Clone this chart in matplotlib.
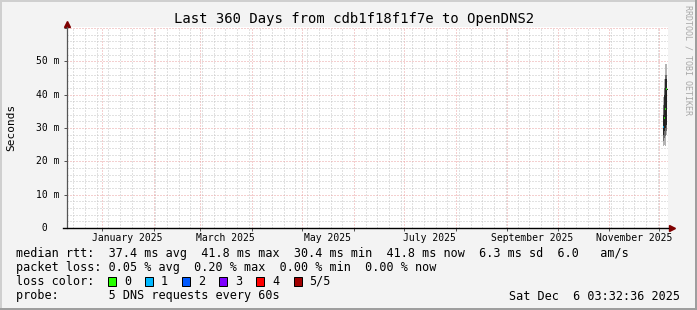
import datetime as dt

import matplotlib
matplotlib.use("Agg")
import matplotlib.pyplot as plt
import matplotlib.dates as mdates
import matplotlib.transforms as mtransforms
from matplotlib.patches import Rectangle
from matplotlib.ticker import MultipleLocator

##############################################################################
# data
##############################################################################

end = dt.datetime(2025, 12, 6, 3, 32, 36)
start = end - dt.timedelta(days=360)

title = "Last 360 Days from cdb1f18f1f7e to OpenDNS2"

y_ticks = [0, 10, 20, 30, 40, 50]
y_tick_labels = [" 0", "10 m", "20 m", "30 m", "40 m", "50 m"]

month_labels = ["January 2025", "March 2025", "May 2025",
                "July 2025", "September 2025", "November 2025"]
month_label_dates = [dt.datetime(2025, 1, 16), dt.datetime(2025, 3, 16),
                     dt.datetime(2025, 5, 16), dt.datetime(2025, 7, 16),
                     dt.datetime(2025, 9, 16), dt.datetime(2025, 11, 16)]

# smoke / median samples (ms), only the last few days carry data
sample_times = [dt.datetime(2025, 12, 3, 3, 0), dt.datetime(2025, 12, 3, 17, 0),
                dt.datetime(2025, 12, 4, 7, 0), dt.datetime(2025, 12, 4, 21, 0)]
smoke_lo = [24.6, 25.0, 24.6, 27.8]
smoke_hi = [39.3, 44.8, 49.3, 49.3]
smoke_mid_lo = [26.0, 27.0, 27.5, 29.0]
smoke_mid_hi = [37.0, 42.0, 46.0, 46.0]
core_lo = [28.0, 29.0, 30.0, 31.0]
core_hi = [34.0, 40.0, 44.8, 44.8]
median = [30.4, 33.0, 35.6, 41.8]
median_loss = [1, 0, 0, 0]

loss_labels = ["0", "1", "2", "3", "4", "5/5"]
loss_colors = ["#26ff00", "#00b8ff", "#0059ff", "#7e00ff", "#ff0000", "#a10000"]

legend_rows = [
    "median rtt:  37.4 ms avg  41.8 ms max  30.4 ms min  41.8 ms now  6.3 ms sd  6.0   am/s",
    "packet loss: 0.05 % avg  0.20 % max  0.00 % min  0.00 % now",
    "loss color:",
    "probe:       5 DNS requests every 60s",
]
stamp = "Sat Dec  6 03:32:36 2025"

##############################################################################
# figure
##############################################################################

W, H = 697, 310
MONO = "DejaVu Sans Mono"

fig = plt.figure(figsize=(W / 100, H / 100), dpi=100, facecolor="#f3f3f3")
ax = fig.add_axes([67 / W, 82 / H, 601 / W, 201 / H])
ax.set_facecolor("white")

ax.set_xlim(start, end)
ax.set_ylim(0, 60.3)

# grid (dotted, rrdtool style)
ax.xaxis.set_major_locator(mdates.MonthLocator())
ax.xaxis.set_minor_locator(mdates.WeekdayLocator(byweekday=mdates.SU))
ax.yaxis.set_major_locator(MultipleLocator(10))
ax.yaxis.set_minor_locator(MultipleLocator(2))
ax.grid(which="minor", color="#c4c4c4", linestyle=(0, (1, 2)), linewidth=0.72)
ax.grid(which="major", color="#eba0a0", linestyle=(0, (1, 2)), linewidth=0.72)
ax.set_axisbelow(True)

ax.set_xticklabels([])
ax.set_yticklabels([])
ax.tick_params(which="major", length=2.5, width=0.72, color="#555555",
               direction="out")
ax.tick_params(which="minor", length=0)

for s in ["top", "right", "bottom"]:
    ax.spines[s].set_visible(False)
ax.spines["left"].set_color("#555555")
ax.spines["left"].set_linewidth(0.9)

# x axis line, starts a little left of the y axis
ax.axhline(0, xmin=-0.007, xmax=1.0, color="black", linewidth=1.0,
           clip_on=False, zorder=3)

# arrows
up = mtransforms.offset_copy(ax.transAxes, fig, x=0, y=3, units="dots")
ax.plot([0], [1], marker="^", color="#7f0000", ms=4.5, transform=up,
        clip_on=False)
rt = mtransforms.offset_copy(ax.transAxes, fig, x=4, y=0, units="dots")
ax.plot([1], [0], marker=">", color="#7f0000", ms=4.5, transform=rt,
        clip_on=False)

# smoke
step = 0.6
lo_h = [h - l for h, l in zip(smoke_hi, smoke_lo)]
ax.bar(sample_times, lo_h, bottom=smoke_lo, width=step, align="edge",
       color="#b4b4b4", linewidth=0)
mid_h = [h - l for h, l in zip(smoke_mid_hi, smoke_mid_lo)]
ax.bar(sample_times, mid_h, bottom=smoke_mid_lo, width=step, align="edge",
       color="#6e6e6e", linewidth=0)
core_h = [h - l for h, l in zip(core_hi, core_lo)]
ax.bar(sample_times, core_h, bottom=core_lo, width=step, align="edge",
       color="#262626", linewidth=0)

# median line
t_num = mdates.date2num(sample_times)
ax.step(list(t_num) + [t_num[-1] + step], median + [median[-1]],
        where="post", color="#202020", linewidth=0.8)
ax.hlines(median, t_num, t_num + step,
          colors=[loss_colors[i] for i in median_loss], linewidth=1.2)

##############################################################################
# texts
##############################################################################

fig.text(354 / W, 1 - 19 / H, title, family=MONO, fontsize=10,
         ha="center", va="center")

fig.text(11 / W, 1 - 127 / H, "Seconds", family=MONO, fontsize=8,
         rotation=90, ha="center", va="center")

ytrans = mtransforms.blended_transform_factory(fig.transFigure, ax.transData)
for v, lab in zip(y_ticks, y_tick_labels):
    ax.text(36.4 / W, v, lab, transform=ytrans, family=MONO, fontsize=7,
            ha="left", va="center")

xtrans = mtransforms.blended_transform_factory(ax.transData, fig.transFigure)
for d, lab in zip(month_label_dates, month_labels):
    ax.text(d, 1 - 238 / H, lab, transform=xtrans, family=MONO, fontsize=7,
            ha="center", va="center", clip_on=False)

row_y = [254, 268, 281.5, 296]
for r, txt in zip(row_y, legend_rows):
    fig.text(16 / W, 1 - r / H, txt, family=MONO, fontsize=8.5,
             ha="left", va="center")

for i, (lab, col) in enumerate(zip(loss_labels, loss_colors)):
    bx = 108 + i * 37.1
    fig.add_artist(Rectangle((bx / W, 1 - 286 / H), 8 / W, 9 / H,
                             transform=fig.transFigure, facecolor=col,
                             edgecolor="black", linewidth=0.72))
    fig.text((bx + 16) / W, 1 - 281.5 / H, lab, family=MONO, fontsize=8.5,
             ha="left", va="center")

fig.text(680 / W, 1 - 296 / H, stamp, family=MONO, fontsize=8.5,
         ha="right", va="center")

fig.text(688 / W, 1 - 5 / H, "RRDTOOL / TOBI OETIKER", family=MONO,
         fontsize=6, color="#a8a8a8", rotation=270, ha="center", va="top")

# border shading
fig.add_artist(Rectangle((0, 1 - 2 / H), 1, 2 / H, transform=fig.transFigure,
                         facecolor="#cfcfcf", linewidth=0))
fig.add_artist(Rectangle((0, 0), 2 / W, 1, transform=fig.transFigure,
                         facecolor="#cfcfcf", linewidth=0))
fig.add_artist(Rectangle((0, 0), 1, 2 / H, transform=fig.transFigure,
                         facecolor="#9e9e9e", linewidth=0))
fig.add_artist(Rectangle((1 - 2 / W, 0), 2 / W, 1, transform=fig.transFigure,
                         facecolor="#9e9e9e", linewidth=0))

fig.savefig("out.png", dpi=100, facecolor=fig.get_facecolor())
